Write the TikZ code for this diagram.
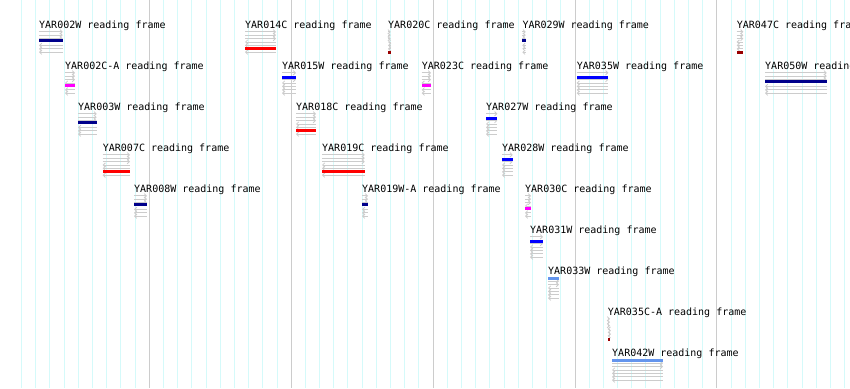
\documentclass[tikz,border=0pt]{standalone}
\usepackage{fontspec}
\setmonofont{DejaVu Sans Mono}
\usepackage{xcolor}
\usepackage{tikz}
\usetikzlibrary{arrows.meta}

\definecolor{gridlight}{HTML}{D5FAFA}
\definecolor{gridgray}{HTML}{CCCCCC}
\definecolor{framegray}{HTML}{CCCCCC}
\definecolor{frame0}{HTML}{6495ED}
\definecolor{frame1}{HTML}{0000FF}
\definecolor{frame2}{HTML}{00008B}
\definecolor{frame3}{HTML}{FF00FF}
\definecolor{frame4}{HTML}{FF0000}
\definecolor{frame5}{HTML}{990000}

\tikzset{
  orflabel/.style={anchor=base west, inner sep=0pt, font=\ttfamily\fontsize{10}{12}\selectfont},
  orfline/.style={framegray, line width=0.8pt, >={Straight Barb[length=2.2pt,width=4.4pt]}},
}

% name, x start, x end, baseline, frame
\newcommand{\readingframe}[5]{%
  \node[orflabel] (#1) at (#2,#4) {#1 reading frame};
  \pgfmathsetmacro{\bary}{#4+4.6+4*#5}
  \foreach \j in {0,...,6} {
    \pgfmathsetmacro{\liney}{#4+3.8+3.4*\j}
    \pgfmathtruncatemacro{\skipline}{abs(\liney-\bary)<1.8}
    \ifnum\skipline=0
      \ifnum\j<3 \draw[orfline,->] (#2,\liney) -- (#3,\liney);
      \else \draw[orfline,<-] (#2,\liney) -- (#3,\liney); \fi
    \fi
  }
  \fill[frame#5] (#2,\bary-1.4) rectangle (#3,\bary+1.4);
}

\begin{document}
\begin{tikzpicture}[x=1pt, y=-1pt]
        \useasboundingbox (0,0) rectangle (850,388);
        \fill[white] (0,0) rectangle (850,388);

        \foreach \k in {1,...,59}
            \draw[gridlight, line width=1pt] (7.4+14.19*\k,0) -- (7.4+14.19*\k,388);
        \foreach \k in {1,...,5}
            \draw[gridgray, line width=1pt] (7.4+141.9*\k,0) -- (7.4+141.9*\k,388);

        \readingframe{YAR002W}{39}{62.7}{28}{2}
        \readingframe{YAR014C}{245}{276}{28}{4}
        \readingframe{YAR020C}{388}{390.7}{28}{5}
        \readingframe{YAR029W}{522.3}{525.7}{28}{2}
        \readingframe{YAR047C}{736.7}{743.3}{28}{5}

        \readingframe{YAR002C-A}{65}{75}{69}{3}
        \readingframe{YAR015W}{282}{296}{69}{1}
        \readingframe{YAR023C}{421.7}{431}{69}{3}
        \readingframe{YAR035W}{576.7}{608.3}{69}{1}
        \readingframe{YAR050W}{765}{826.7}{69}{2}

        \readingframe{YAR003W}{78}{96.7}{110}{2}
        \readingframe{YAR018C}{296}{316}{110}{4}
        \readingframe{YAR027W}{486}{497.3}{110}{1}

        \readingframe{YAR007C}{102.7}{130}{151}{4}
        \readingframe{YAR019C}{322}{364.7}{151}{4}
        \readingframe{YAR028W}{502}{512.7}{151}{1}

        \readingframe{YAR008W}{134}{147}{192}{2}
        \readingframe{YAR019W-A}{362}{368}{192}{2}
        \readingframe{YAR030C}{525}{531}{192}{3}

        \readingframe{YAR031W}{530}{543}{233}{1}
        \readingframe{YAR033W}{548}{559}{274}{0}
        \readingframe{YAR035C-A}{607.7}{610}{315}{5}
        \readingframe{YAR042W}{612}{663}{356}{0}
    \end{tikzpicture}
\end{document}
